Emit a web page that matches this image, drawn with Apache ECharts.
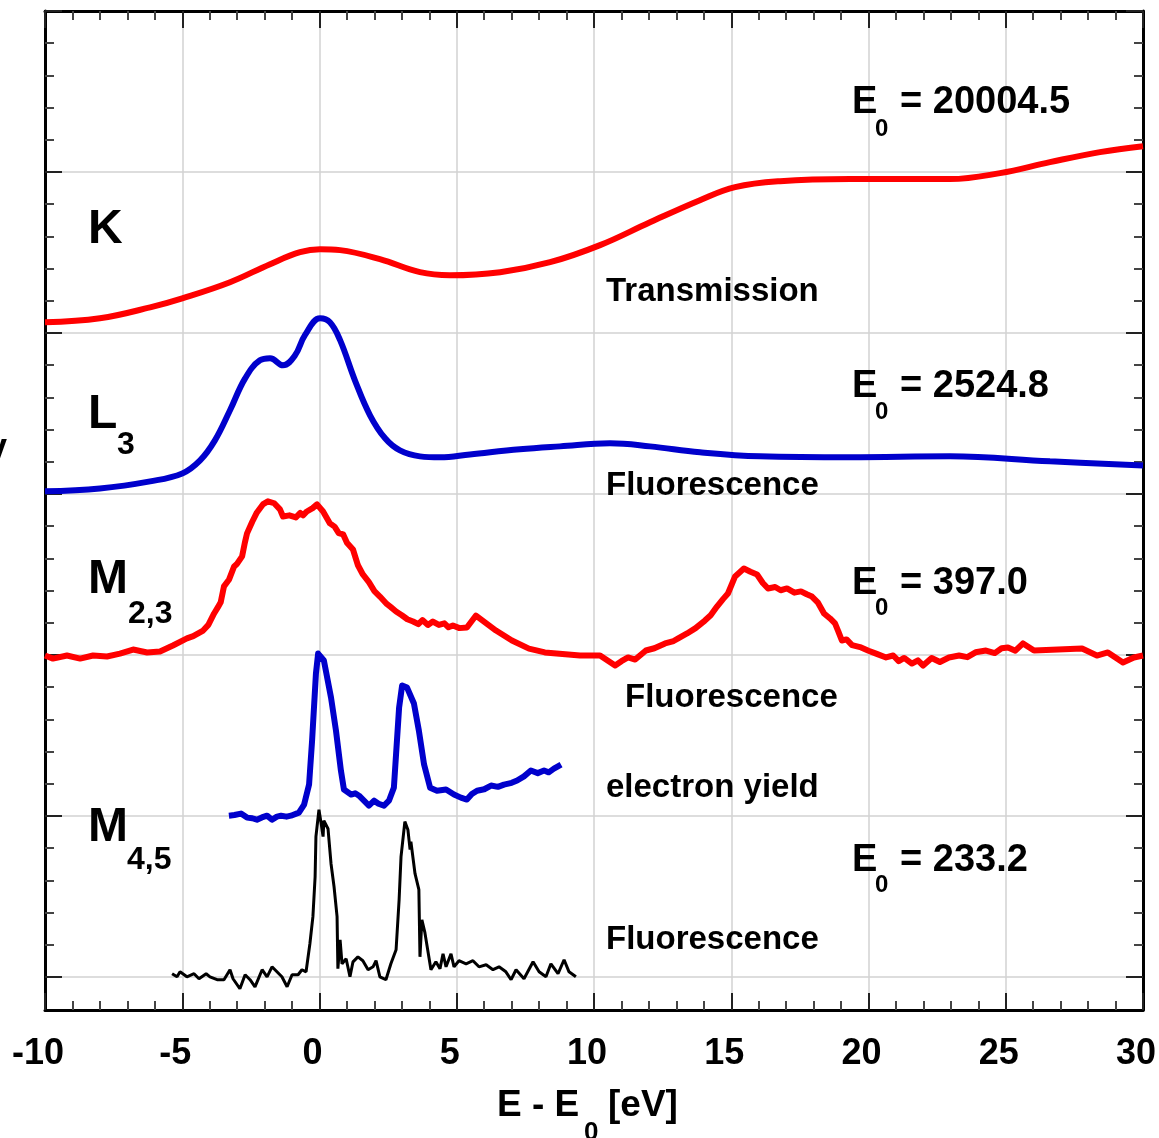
<!DOCTYPE html>
<html><head><meta charset="utf-8">
<script src="https://cdn.jsdelivr.net/npm/echarts@6/dist/echarts.min.js"></script>
<style>html,body{margin:0;padding:0;background:#fff}#c{width:1159px;height:1138px}</style>
</head><body><div id="c"></div>
<script>
// ---- data (x: E - E0 in eV, y: offset normalized intensity) ----
const xRange = [-10, 30];
const yRange = [-0.2, 6];

const kEdgeTransmission = [[-10,4.068],[-8.0,4.093],[-6.17,4.161],[-5.0,4.217],[-3.26,4.317],[-1.80,4.429],[-0.71,4.503],[0.02,4.522],[0.75,4.516],[2.20,4.460],[3.66,4.379],[4.75,4.360],[6.58,4.379],[8.40,4.441],[10.22,4.547],[12.04,4.689],[13.86,4.826],[15.14,4.907],[16.78,4.944],[19.33,4.957],[22.97,4.957],[24.79,4.994],[26.61,5.062],[28.43,5.124],[30.0,5.161]];

const l3Fluorescence = [[-10,3.019],[-8.0,3.037],[-6.17,3.081],[-5.0,3.130],[-4.35,3.211],[-3.81,3.335],[-3.26,3.522],[-2.71,3.720],[-2.17,3.832],[-1.80,3.845],[-1.33,3.801],[-0.89,3.863],[-0.53,3.988],[0.02,4.093],[0.38,4.068],[0.75,3.957],[1.29,3.708],[1.84,3.491],[2.39,3.348],[2.93,3.273],[3.66,3.236],[4.39,3.230],[5.48,3.248],[7.30,3.280],[8.76,3.298],[10.58,3.317],[12.04,3.298],[13.86,3.261],[16.05,3.236],[19.33,3.230],[22.97,3.236],[26.61,3.205],[30,3.180]];

const m23Fluorescence = [[-10.00,2.000],[-9.71,1.981],[-9.20,2.000],[-8.72,1.981],[-8.25,2.000],[-7.74,1.994],[-7.27,2.012],[-6.79,2.037],[-6.28,2.019],[-5.81,2.025],[-5.34,2.062],[-4.83,2.106],[-4.60,2.120],[-4.24,2.155],[-4.05,2.190],[-3.84,2.261],[-3.70,2.300],[-3.60,2.330],[-3.48,2.429],[-3.30,2.470],[-3.11,2.553],[-3.00,2.570],[-2.82,2.615],[-2.72,2.700],[-2.64,2.758],[-2.45,2.830],[-2.28,2.888],[-2.05,2.940],[-1.88,2.957],[-1.65,2.945],[-1.44,2.907],[-1.33,2.863],[-1.10,2.870],[-0.86,2.857],[-0.70,2.885],[-0.60,2.870],[-0.46,2.894],[-0.25,2.915],[-0.09,2.938],[0.13,2.894],[0.38,2.820],[0.55,2.800],[0.70,2.760],[0.86,2.752],[1.00,2.700],[1.22,2.658],[1.40,2.560],[1.58,2.503],[1.80,2.455],[2.00,2.400],[2.20,2.366],[2.45,2.320],[2.60,2.300],[2.79,2.273],[3.00,2.250],[3.20,2.225],[3.41,2.211],[3.60,2.195],[3.75,2.220],[3.95,2.190],[4.13,2.211],[4.35,2.190],[4.55,2.200],[4.70,2.175],[4.86,2.186],[5.10,2.170],[5.37,2.174],[5.70,2.248],[6.43,2.155],[7.01,2.093],[7.63,2.043],[8.21,2.019],[9.49,2.000],[10.22,2.000],[10.77,1.938],[11.00,1.965],[11.24,1.988],[11.50,1.975],[11.89,2.031],[12.20,2.045],[12.59,2.075],[12.90,2.090],[13.10,2.110],[13.39,2.137],[13.70,2.170],[14.04,2.217],[14.25,2.250],[14.48,2.304],[14.70,2.350],[14.88,2.385],[15.14,2.491],[15.46,2.540],[15.70,2.520],[15.94,2.503],[16.15,2.450],[16.34,2.416],[16.60,2.425],[16.80,2.405],[17.03,2.416],[17.30,2.390],[17.54,2.398],[17.75,2.380],[17.94,2.366],[18.15,2.330],[18.38,2.261],[18.60,2.230],[18.78,2.199],[18.90,2.150],[19.03,2.093],[19.20,2.100],[19.40,2.065],[19.73,2.050],[20.00,2.030],[20.30,2.010],[20.64,1.988],[20.90,2.000],[21.10,1.965],[21.30,1.985],[21.58,1.950],[21.80,1.970],[21.99,1.938],[22.30,1.985],[22.60,1.960],[22.93,1.988],[23.30,2.000],[23.60,1.990],[23.90,2.020],[24.28,2.031],[24.60,2.015],[24.85,2.045],[25.08,2.050],[25.35,2.030],[25.63,2.075],[26.03,2.031],[27.78,2.043],[28.32,2.000],[28.72,2.019],[29.27,1.957],[29.67,1.988],[30.00,2.000]];

const m45ElectronYield = [[-3.30,1.006],[-3.10,1.010],[-2.86,1.019],[-2.64,0.994],[-2.45,0.990],[-2.28,0.981],[-2.10,0.995],[-1.91,1.006],[-1.73,0.981],[-1.55,1.000],[-1.40,1.006],[-1.20,1.000],[-1.04,1.006],[-0.75,1.025],[-0.56,1.075],[-0.38,1.199],[-0.27,1.472],[-0.13,1.888],[-0.05,2.012],[0.16,1.969],[0.42,1.739],[0.60,1.534],[0.78,1.286],[0.89,1.168],[1.15,1.137],[1.30,1.145],[1.44,1.130],[1.62,1.099],[1.80,1.068],[1.99,1.099],[2.15,1.080],[2.35,1.068],[2.53,1.099],[2.71,1.180],[2.90,1.677],[3.01,1.814],[3.19,1.801],[3.44,1.702],[3.62,1.534],[3.81,1.323],[4.03,1.180],[4.28,1.161],[4.61,1.168],[4.90,1.137],[5.15,1.118],[5.37,1.106],[5.55,1.140],[5.74,1.161],[6.00,1.170],[6.25,1.193],[6.50,1.185],[6.72,1.199],[7.00,1.210],[7.20,1.224],[7.45,1.250],[7.70,1.286],[7.95,1.270],[8.18,1.286],[8.35,1.275],[8.54,1.298],[8.80,1.323]];

const m45Fluorescence = [[-5.37,0.025],[-5.19,0.006],[-5.08,0.037],[-4.83,0.006],[-4.57,0.025],[-4.39,-0.006],[-4.13,0.025],[-3.99,0.006],[-3.73,-0.012],[-3.48,-0.012],[-3.26,0.050],[-3.15,-0.006],[-2.90,-0.068],[-2.71,0.019],[-2.53,-0.012],[-2.35,-0.056],[-2.09,0.050],[-1.91,0.006],[-1.73,0.068],[-1.55,0.037],[-1.37,0.006],[-1.18,-0.056],[-1.00,0.019],[-0.78,0.019],[-0.64,0.050],[-0.49,0.037],[-0.35,0.211],[-0.24,0.379],[-0.16,0.627],[-0.13,0.876],[-0.02,1.043],[0.05,0.969],[0.13,0.876],[0.16,0.975],[0.31,0.925],[0.42,0.708],[0.53,0.565],[0.64,0.379],[0.67,0.056],[0.75,0.236],[0.82,0.087],[0.97,0.118],[1.11,0.006],[1.22,0.099],[1.40,0.130],[1.58,0.106],[1.77,0.050],[1.95,0.068],[2.06,0.106],[2.20,0.006],[2.42,-0.012],[2.60,0.087],[2.79,0.174],[2.90,0.484],[2.97,0.752],[3.11,0.969],[3.22,0.919],[3.30,0.795],[3.33,0.845],[3.48,0.646],[3.62,0.547],[3.66,0.130],[3.73,0.360],[3.84,0.280],[4.06,0.050],[4.24,0.099],[4.39,0.056],[4.50,0.149],[4.61,0.068],[4.79,0.149],[4.90,0.068],[5.08,0.106],[5.34,0.087],[5.59,0.106],[5.81,0.068],[6.07,0.081],[6.32,0.050],[6.54,0.068],[6.79,0.037],[6.98,-0.012],[7.16,0.050],[7.45,-0.006],[7.78,0.099],[8.00,0.037],[8.25,0.006],[8.43,0.087],[8.69,0.025],[8.91,0.112],[9.09,0.037],[9.34,0.006]];

// ---- styling ----
const FF = '"Liberation Sans", Arial, Helvetica, sans-serif';
const RED = '#ff0000', BLUE = '#0000cc';
const GRID = { left: 45, right: 16, top: 11, bottom: 128, containLabel: false, outerBoundsMode: 'none' };
const GRID2 = { left: 45, right: 16, top: 11, bottom: 161, containLabel: false, outerBoundsMode: 'none' };

function txt(s, x, y, size) {
  return { type: 'text', x: x, y: y, z: 50,
    style: { text: s, font: 'bold ' + size + 'px ' + FF, fill: '#000',
      textAlign: 'left', align: 'left', textVerticalAlign: 'middle', verticalAlign: 'middle' } };
}

const majorTick = { show: true, inside: true, length: 17, lineStyle: { color: '#222', width: 2 } };
const minorTick = { show: true, splitNumber: 5, length: 9, lineStyle: { color: '#444', width: 2 } };
const frameLine = { show: true, onZero: false, lineStyle: { color: '#000', width: 3 } };
const hiddenLine = { show: false, onZero: false };
const gridLine = { show: true, lineStyle: { color: '#d2d2d2', width: 1.5 } };

const chart = echarts.init(document.getElementById('c'), null, { renderer: 'canvas' });
chart.setOption({
  animation: false,
  backgroundColor: '#fff',
  grid: [GRID, GRID2],
  xAxis: [
    { type: 'value', gridIndex: 0, position: 'bottom', min: xRange[0], max: xRange[1], interval: 5,
      axisLine: frameLine, axisTick: majorTick, minorTick: minorTick, splitLine: gridLine,
      axisLabel: { show: true, margin: 26, color: '#000', fontFamily: FF, fontWeight: 'bold', fontSize: 36, lineHeight: 36, padding: [0, 14, 0, 0] } },
    { type: 'value', gridIndex: 0, position: 'top', min: xRange[0], max: xRange[1], interval: 5,
      axisLine: frameLine, axisTick: majorTick, minorTick: minorTick, splitLine: { show: false }, axisLabel: { show: false } },
    { type: 'value', gridIndex: 1, position: 'bottom', min: xRange[0], max: xRange[1], show: false, axisLine: hiddenLine }
  ],
  yAxis: [
    { type: 'value', gridIndex: 0, position: 'left', min: yRange[0], max: yRange[1],
      axisLine: frameLine, axisTick: { show: false }, splitLine: { show: false }, axisLabel: { show: false } },
    { type: 'value', gridIndex: 0, position: 'right', min: yRange[0], max: yRange[1],
      axisLine: frameLine, axisTick: { show: false }, splitLine: { show: false }, axisLabel: { show: false } },
    { type: 'value', gridIndex: 1, position: 'left', min: 0, max: yRange[1], interval: 1,
      axisLine: hiddenLine, axisTick: majorTick, minorTick: minorTick, splitLine: gridLine, axisLabel: { show: false } },
    { type: 'value', gridIndex: 1, position: 'right', min: 0, max: yRange[1], interval: 1,
      axisLine: hiddenLine, axisTick: majorTick, minorTick: minorTick, splitLine: { show: false }, axisLabel: { show: false } }
  ],
  series: [
    { name: 'K', type: 'line', xAxisIndex: 0, yAxisIndex: 0, data: kEdgeTransmission, smooth: 0.4, showSymbol: false, lineStyle: { color: RED, width: 6 } },
    { name: 'L3', type: 'line', xAxisIndex: 0, yAxisIndex: 0, data: l3Fluorescence, smooth: 0.4, showSymbol: false, lineStyle: { color: BLUE, width: 6 } },
    { name: 'M23', type: 'line', xAxisIndex: 0, yAxisIndex: 0, data: m23Fluorescence, showSymbol: false, lineStyle: { color: RED, width: 6, join: 'round' } },
    { name: 'M45 EY', type: 'line', xAxisIndex: 0, yAxisIndex: 0, data: m45ElectronYield, showSymbol: false, lineStyle: { color: BLUE, width: 6, join: 'round' } },
    { name: 'M45 FY', type: 'line', xAxisIndex: 0, yAxisIndex: 0, data: m45Fluorescence, showSymbol: false, lineStyle: { color: '#000', width: 3 } }
  ],
  graphic: { elements: [
    txt('K', 88, 230, 48),
    txt('L', 88, 415, 48), txt('3', 117, 445, 32),
    txt('M', 88, 580, 48), txt('2,3', 128, 614, 32),
    txt('M', 88, 828, 48), txt('4,5', 127, 860, 32),
    txt('E', 852, 103, 38), txt('0', 875, 129, 24), txt('= 20004.5', 900, 103, 38),
    txt('E', 852, 387, 38), txt('0', 875, 412, 24), txt('= 2524.8', 900, 387, 38),
    txt('E', 852, 584, 38), txt('0', 875, 608, 24), txt('= 397.0', 900, 584, 38),
    txt('E', 852, 861, 38), txt('0', 875, 885, 24), txt('= 233.2', 900, 861, 38),
    txt('Transmission', 606, 292, 33),
    txt('Fluorescence', 606, 486, 33),
    txt('Fluorescence', 625, 698, 33),
    txt('electron yield', 606, 788, 33),
    txt('Fluorescence', 606, 940, 33),
    txt('E - E', 497, 1106, 37), txt('0', 584, 1133, 26), txt('[eV]', 608, 1106, 37),
    { type: 'text', x: 7, y: 449, z: 50, style: { text: 'Intensity', font: 'bold 36px ' + FF, fill: '#000', textAlign: 'right', align: 'right', textVerticalAlign: 'middle', verticalAlign: 'middle' } }
  ] }
});
</script></body></html>
